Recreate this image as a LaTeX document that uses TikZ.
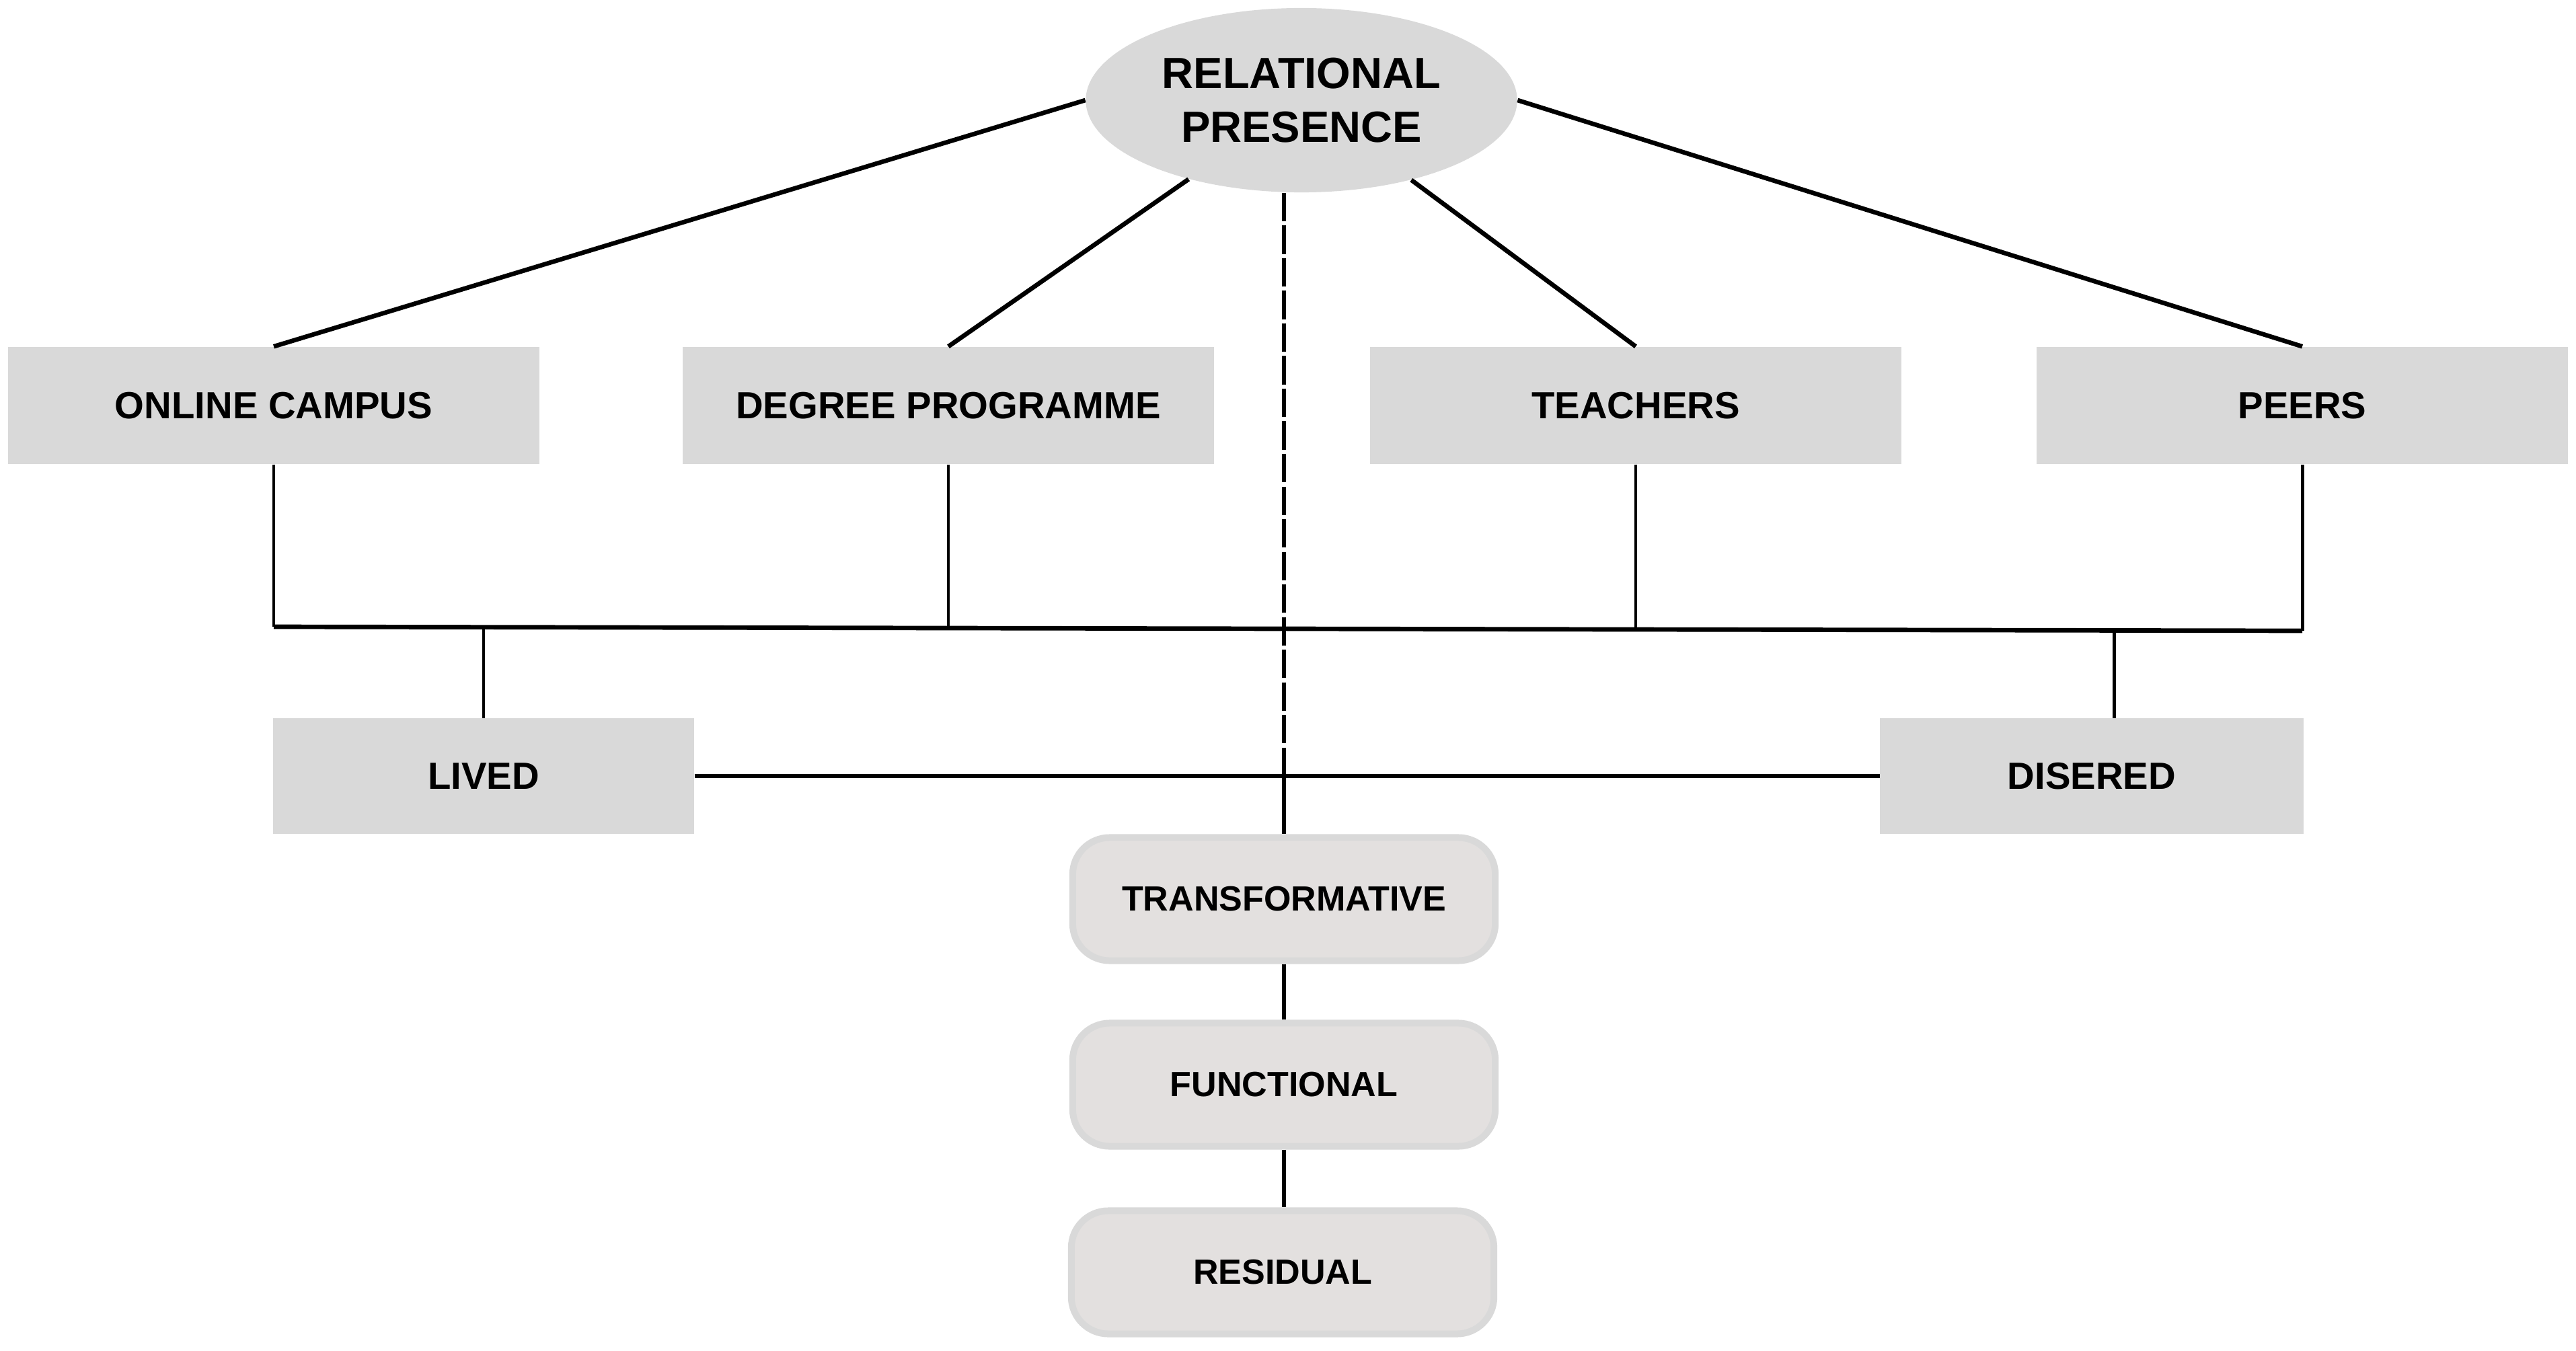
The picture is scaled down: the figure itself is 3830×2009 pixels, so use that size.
\documentclass[tikz,border=0pt]{standalone}
\usepackage{fontspec}
\setmainfont{Liberation Sans}
\usetikzlibrary{shapes.geometric}
\definecolor{boxgray}{HTML}{D9D9D9}
\definecolor{pillfill}{HTML}{E3E0DF}
\definecolor{pillline}{HTML}{D9D9D9}
\begin{document}
\begin{tikzpicture}[x=0.01cm,y=-0.01cm,
  box/.style={fill=boxgray, inner sep=0pt, minimum width=7.9cm, minimum height=1.74cm, font=\fontsize{16}{19}\selectfont\bfseries},
  pill/.style={fill=pillfill, draw=pillline, line width=0.1cm, rounded corners=0.55cm, inner sep=0pt, minimum width=6.28cm, minimum height=1.83cm, font=\fontsize{14.8}{18}\selectfont\bfseries},
  link/.style={line width=1.9pt, black},
  thinlink/.style={line width=1.4pt, black}]
\useasboundingbox (0,0) rectangle (3830,2009);
\node[ellipse, fill=boxgray, inner sep=0pt, minimum width=6.41cm, minimum height=2.74cm, align=center, font=\fontsize{18.5}{22.7}\selectfont\bfseries] (rp) at (1935,149) {RELATIONAL\\PRESENCE};
\node[box] (oc) at (407,603) {ONLINE CAMPUS};
\node[box] (dp) at (1410,603) {DEGREE PROGRAMME};
\node[box] (te) at (2432,603) {TEACHERS};
\node[box] (pe) at (3423,603) {PEERS};
\node[box, minimum width=6.26cm, minimum height=1.71cm] (lv) at (719,1154) {LIVED};
\node[box, minimum width=6.29cm, minimum height=1.71cm] (ds) at (3110,1154) {DISERED};
\node[pill] (tr) at (1909,1337) {TRANSFORMATIVE};
\node[pill] (fu) at (1909,1613) {FUNCTIONAL};
\node[pill] (re) at (1907,1892) {RESIDUAL};
% connectors from the ellipse
\draw[link] (rp.west) -- (oc.north);
\draw[link] (rp.215) -- (dp.north);
\draw[link] (rp.324) -- (te.north);
\draw[link] (rp.east) -- (pe.north);
% bus
\coordinate (j1) at (407,932);
\coordinate (j2) at (1410,934);
\coordinate (j3) at (2432,936);
\coordinate (j4) at (3423,938);
\coordinate (lj) at (719,933);
\coordinate (dj) at (3143,938);
\draw[thinlink] (oc.south) -- (j1);
\draw[thinlink] (dp.south) -- (j2);
\draw[thinlink] (te.south) -- (j3);
\draw[thinlink] (pe.south) -- (j4);
\draw[link] (j1) -- (j4);
\draw[thinlink] (lj) -- (lj |- lv.north);
\draw[thinlink] (dj) -- (dj |- ds.north);
% lived - disered
\draw[link] (lv.east) -- (ds.west);
% central axis
\draw[link, dash pattern=on 12pt off 1.8pt] (rp.south -| tr.north) -- (tr.north |- lv.east);
\draw[link] (tr.north |- lv.east) -- (tr.north);
\draw[link] (tr.south) -- (fu.north);
\draw[link] (fu.south) -- (fu.south |- re.north);
\end{tikzpicture}
\end{document}
